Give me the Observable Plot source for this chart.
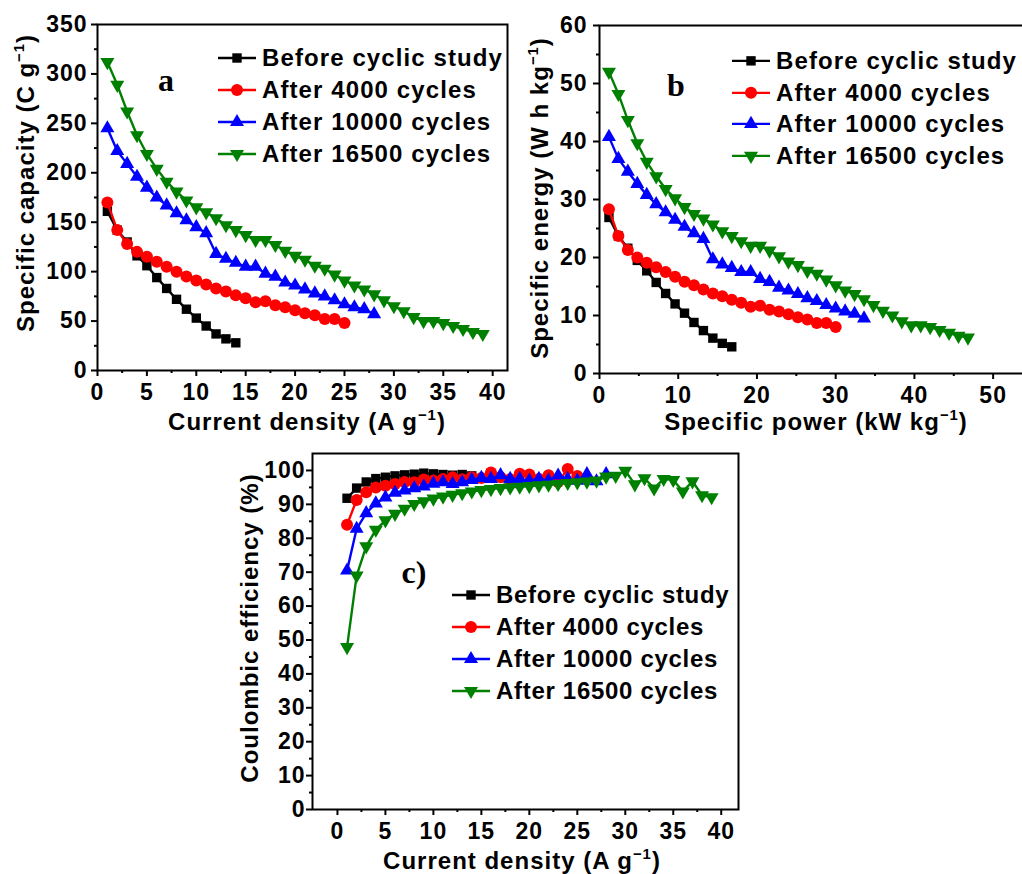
<!DOCTYPE html>
<html><head><meta charset="utf-8">
<script src="https://cdn.jsdelivr.net/npm/d3@7"></script>
<script src="https://cdn.jsdelivr.net/npm/@observablehq/plot@0.6"></script>
<style>
html,body{margin:0;padding:0;background:#fff;overflow:hidden}
#root{position:relative;width:1022px;height:874px;overflow:hidden;font-family:"Liberation Sans",Arial,sans-serif;font-weight:bold;color:#000}
#root svg{max-width:none!important}
.panel{position:absolute}
.t{position:absolute;white-space:nowrap;font-size:24px;letter-spacing:1px;line-height:1}
.rot{transform:translate(-50%,-50%) rotate(-90deg)}
.ctr{transform:translate(-50%,-50%)}
sup{font-size:0.62em;vertical-align:0.7em;line-height:0}
.letter{position:absolute;font-family:"Liberation Serif",serif;font-weight:bold;font-size:32px;transform:translate(-50%,-50%);line-height:1}
.legend{position:absolute}
.row{display:flex;align-items:center;height:32px}
.row span{font-size:24px;margin-left:6px;white-space:nowrap}
</style></head><body><div id="root"></div>
<script>
// ---------- data ----------
const seriesNames = ["Before cyclic study", "After 4000 cycles", "After 10000 cycles", "After 16500 cycles"];
const seriesColors = ["#000000", "#ff0000", "#0000ff", "#008000"];

// current density (A g^-1) for every measured point
const currentDensity = [1,2,3,4,5,6,7,8,9,10,11,12,13,14,15,16,17,18,19,20,21,22,23,24,25,26,27,28,29,30,31,32,33,34,35,36,37,38,39];
// specific power (kW kg^-1) for the same points
const specificPower = [1.2,2.4,3.6,4.8,6.0,7.2,8.4,9.6,10.8,12.0,13.2,14.4,15.6,16.8,18.0,19.2,20.4,21.6,22.8,24.0,25.2,26.4,27.6,28.8,30.0,31.2,32.4,33.6,34.8,36.0,37.2,38.4,39.6,40.8,42.0,43.2,44.4,45.6,46.8];

// (a) specific capacity, C g^-1
const capacityBefore = [161,142,130,116,106,94,83,72,62,53,45,37,32,28];
const capacity4000 = [170,142,128,120,115,110,105,100,95,91,87,83,80,76,73,69,70,66,64,61,58,56,52,52,48];
const capacity10000 = [245,222,209,196,185,175,167,159,152,145,139,118,113,109,105,105,98,95,89,86,82,78,75,71,67,64,62,57];
const capacity16500 = [312,289,262,238,219,204,191,181,172,165,160,154,147,142,137,132,132,127,121,116,112,106,103,97,91,86,82,77,71,65,60,54,50,50,48,45,42,39,37];

// (b) specific energy, W h kg^-1
const energyBefore = [26.9,23.7,21.6,19.5,17.7,15.7,13.8,12.0,10.4,8.8,7.4,6.1,5.2,4.6];
const energy4000 = [28.3,23.7,21.3,20.0,19.1,18.3,17.5,16.7,15.8,15.2,14.5,13.8,13.3,12.7,12.2,11.5,11.7,11.0,10.7,10.2,9.7,9.3,8.7,8.7,8.0];
const energy10000 = [40.8,37.0,34.8,32.7,30.8,29.2,27.8,26.5,25.3,24.2,23.2,19.7,18.8,18.2,17.5,17.5,16.3,15.8,14.8,14.3,13.7,13.0,12.5,11.8,11.2,10.7,10.3,9.5];
const energy16500 = [52.0,48.2,43.7,39.7,36.5,34.0,31.8,30.2,28.7,27.5,26.7,25.7,24.5,23.7,22.8,22.0,22.0,21.2,20.2,19.3,18.7,17.7,17.2,16.2,15.2,14.3,13.7,12.8,11.8,10.8,10.0,9.0,8.3,8.3,8.0,7.5,7.0,6.5,6.2];

// (c) coulombic efficiency, %
const ceBefore = [91.8,94.8,96.6,97.6,98.0,98.4,98.7,98.9,99.2,99.0,98.8,98.6,98.8,98.4];
const ce4000 = [84.0,91.3,93.6,95.0,95.5,96.0,96.6,96.5,97.3,97.0,97.5,98.0,97.4,98.0,97.8,99.4,98.0,97.4,99.0,98.8,97.5,98.6,96.6,100.4,98.4];
const ce10000 = [70.5,82.8,87.4,90.3,92.0,93.4,94.1,94.8,95.3,96.1,96.5,96.0,96.5,97.2,97.8,97.5,98.6,97.5,97.5,97.0,97.5,97.0,98.5,97.5,97.0,98.9,96.8,98.9];
const ce16500 = [47.9,69.0,77.6,82.5,85.3,87.2,88.7,90.1,90.9,91.7,92.3,92.8,93.3,93.8,94.2,94.5,94.8,95.0,95.2,95.4,95.6,95.8,96.0,96.3,96.5,96.7,97.0,98.2,98.4,99.9,95.9,97.7,94.7,97.5,97.2,93.8,96.8,92.7,92.1];

// tick values
const ticksCurrentA = [0,5,10,15,20,25,30,35,40];
const minorCurrentA = [2.5,7.5,12.5,17.5,22.5,27.5,32.5,37.5];
const ticksCapacity = [0,50,100,150,200,250,300,350];
const minorCapacity = [25,75,125,175,225,275,325];
const ticksPower = [0,10,20,30,40,50];
const minorPower = [5,15,25,35,45];
const ticksEnergy = [0,10,20,30,40,50,60];
const minorEnergy = [5,15,25,35,45,55];
const ticksCE = [0,10,20,30,40,50,60,70,80,90,100];
const minorCE = [5,15,25,35,45,55,65,75,85,95];

// ---------- symbols ----------
const sqrt3 = Math.sqrt(3);
const triangleDown = {
  draw(context, size) {
    const y = -Math.sqrt(size / (sqrt3 * 3));
    context.moveTo(0, -y * 2);
    context.lineTo(-sqrt3 * y, y);
    context.lineTo(sqrt3 * y, y);
    context.closePath();
  }
};
const seriesSymbols = [d3.symbolSquare, d3.symbolCircle, d3.symbolTriangle, triangleDown];
const seriesR = [5.3, 6.0, 5.2, 5.2];

function toRows(xs, ys) { return ys.map((v, i) => ({x: xs[i], y: v})); }

const root = document.getElementById("root");

function makePanel(cfg) {
  const marks = [];
  cfg.series.forEach((ys, i) => {
    const rows = toRows(cfg.xs, ys);
    marks.push(Plot.line(rows, {x: "x", y: "y", stroke: seriesColors[i], strokeWidth: 2.4}));
    marks.push(Plot.dot(rows, {x: "x", y: "y", fill: seriesColors[i], stroke: "none", symbol: seriesSymbols[i], r: seriesR[i]}));
  });
  marks.push(Plot.axisX(cfg.xMinor, {tickSize: 3, strokeWidth: 2, tickFormat: () => "", label: null}));
  marks.push(Plot.axisX(cfg.xMajor, {tickSize: 6, tickPadding: cfg.xPad, strokeWidth: 2, label: null}));
  marks.push(Plot.axisY(cfg.yMinor, {tickSize: 3, strokeWidth: 2, tickFormat: () => "", label: null}));
  marks.push(Plot.axisY(cfg.yMajor, {tickSize: 6, tickPadding: cfg.yPad, strokeWidth: 2, label: null}));
  marks.push(Plot.frame({stroke: "#000", strokeWidth: 2}));
  const svg = Plot.plot({
    width: cfg.width, height: cfg.height,
    marginLeft: cfg.ml, marginRight: cfg.mr, marginTop: cfg.mt, marginBottom: cfg.mb,
    x: {domain: cfg.xDomain, label: null},
    y: {domain: cfg.yDomain, label: null},
    style: {fontFamily: '"Liberation Sans", Arial, sans-serif', fontWeight: "bold", fontSize: "23px", letterSpacing: "1px", color: "#000", background: "transparent", overflow: "visible"},
    marks
  });
  const holder = document.createElement("div");
  holder.className = "panel";
  holder.style.left = cfg.left + "px";
  holder.style.top = cfg.top + "px";
  holder.appendChild(svg);
  root.appendChild(holder);
}

function addLegend(left, top, rowH, fs, ls) {
  const lg = document.createElement("div");
  lg.className = "legend";
  lg.style.left = left + "px";
  lg.style.top = top + "px";
  seriesNames.forEach((name, i) => {
    const row = document.createElement("div");
    row.className = "row";
    row.style.height = rowH + "px";
    const s = d3.create("svg").attr("width", 38).attr("height", rowH);
    s.append("line").attr("x1", 0).attr("x2", 38).attr("y1", rowH / 2).attr("y2", rowH / 2)
      .attr("stroke", seriesColors[i]).attr("stroke-width", 2.4);
    s.append("path").attr("transform", `translate(19,${rowH / 2})`)
      .attr("d", d3.symbol(seriesSymbols[i], seriesR[i] * seriesR[i] * Math.PI)())
      .attr("fill", seriesColors[i]);
    row.appendChild(s.node());
    const sp = document.createElement("span");
    sp.textContent = name;
    sp.style.fontSize = fs + "px";
    sp.style.letterSpacing = ls + "px";
    row.appendChild(sp);
    lg.appendChild(row);
  });
  root.appendChild(lg);
}

function addText(html, x, y, cls) {
  const d = document.createElement("div");
  d.className = cls;
  d.innerHTML = html;
  d.style.left = x + "px";
  d.style.top = y + "px";
  root.appendChild(d);
}

// panel a
makePanel({
  left: 0, top: 0, width: 515, height: 440, ml: 97, mr: 8, mt: 24, mb: 70,
  xDomain: [0, 41.5], yDomain: [0, 350],
  xMajor: ticksCurrentA, xMinor: minorCurrentA, yMajor: ticksCapacity, yMinor: minorCapacity,
  xPad: 7, yPad: 4, xs: currentDensity,
  series: [capacityBefore, capacity4000, capacity10000, capacity16500]
});
// panel b
makePanel({
  left: 500, top: 0, width: 540, height: 440, ml: 99, mr: 8, mt: 25, mb: 67,
  xDomain: [0, 55], yDomain: [0, 60],
  xMajor: ticksPower, xMinor: minorPower, yMajor: ticksEnergy, yMinor: minorEnergy,
  xPad: 7, yPad: 6, xs: specificPower,
  series: [energyBefore, energy4000, energy10000, energy16500]
});
// panel c
makePanel({
  left: 220, top: 440, width: 528, height: 434, ml: 92, mr: 10, mt: 13, mb: 65,
  xDomain: [-2.6, 41.8], yDomain: [0, 105],
  xMajor: ticksCurrentA, xMinor: minorCurrentA, yMajor: ticksCE, yMinor: minorCE,
  xPad: 7, yPad: 1, xs: currentDensity,
  series: [ceBefore, ce4000, ce10000, ce16500]
});

addLegend(218, 42, 32, 24, 1.1);
addLegend(732, 45, 31.7, 24, 1.1);
addLegend(452, 579, 32, 24, 0.7);

addText("a", 166, 80, "letter");
addText("b", 676, 85, "letter");
addText("c)", 414, 572, "letter");

addText("Specific capacity (C g<sup>−1</sup>)", 26, 183, "t rot");
addText("Current density (A g<sup>−1</sup>)", 307, 422, "t ctr");
addText("Specific energy (W h kg<sup>−1</sup>)", 540, 198, "t rot");
addText("Specific power (kW kg<sup>−1</sup>)", 816, 422, "t ctr");
addText("Coulombic efficiency (%)", 250, 628, "t rot");
addText("Current density (A g<sup>−1</sup>)", 522, 861, "t ctr");
</script></body></html>
